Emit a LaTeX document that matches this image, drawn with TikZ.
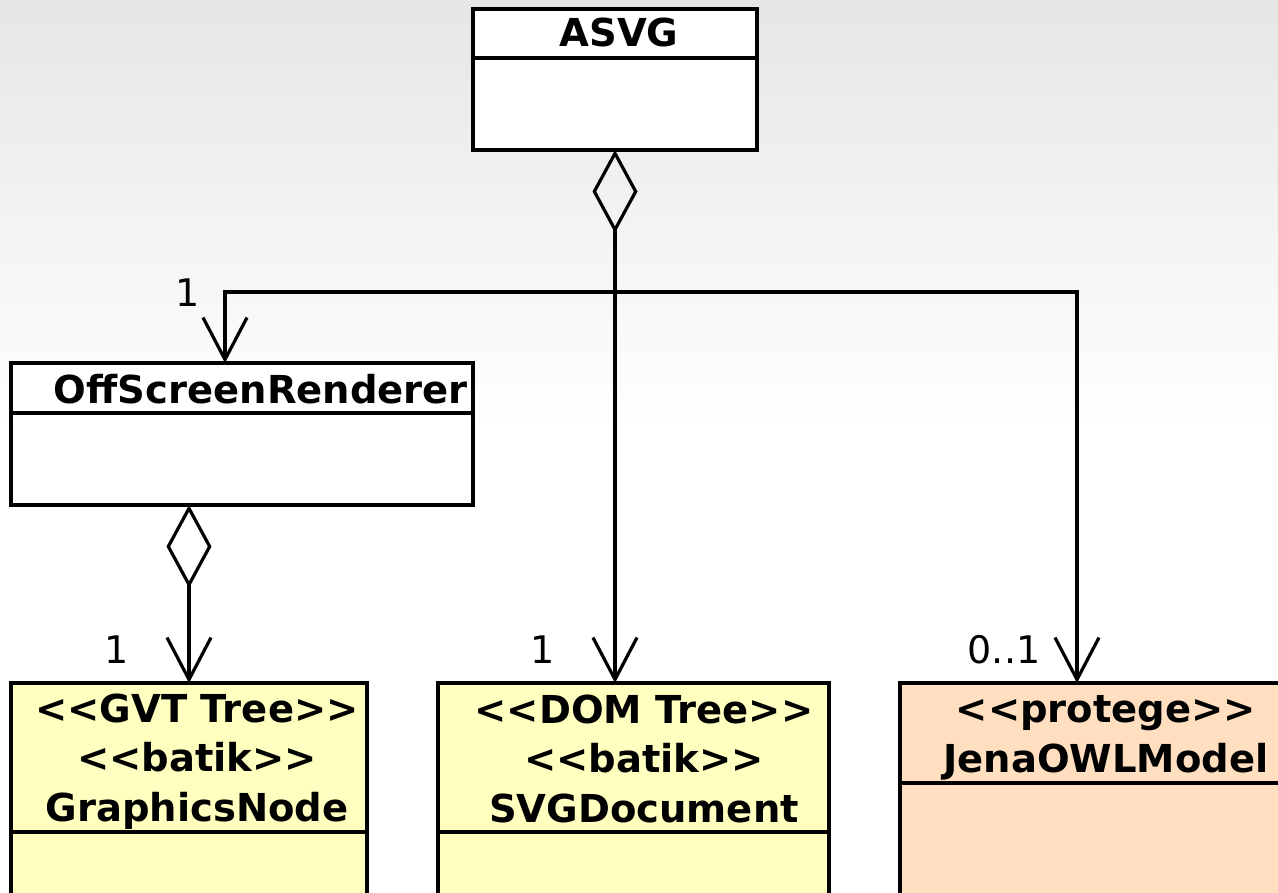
\documentclass[tikz,border=0pt]{standalone}
\usepackage{fontspec}
\setmainfont{DejaVu Sans}[Ligatures=TeXOff]
\usetikzlibrary{arrows.meta,calc}
\definecolor{bgtop}{RGB}{230,230,230}
\definecolor{gvtfill}{RGB}{255,255,192}
\definecolor{jenafill}{RGB}{255,223,191}
\begin{document}
\begin{tikzpicture}[x=1pt,y=-1pt,
  umlbox/.style={draw, line width=3.2pt, rectangle, anchor=north west, outer sep=0pt, inner sep=0pt},
  title/.style={font=\fontsize{38.5}{49.5}\selectfont\bfseries, anchor=base, align=center, inner sep=0pt},
  mult/.style={font=\fontsize{38}{46}\selectfont, anchor=base, inner sep=0pt},
  conn/.style={line width=3.2pt},
  barb/.style={conn, {Straight Barb[length=42pt,width=44pt]}-{Straight Barb[length=42pt,width=44pt]}},
  aggr/.style={conn, {Diamond[open,length=83pt,width=45pt]}-{Straight Barb[length=42pt,width=44pt]}}]
\useasboundingbox (0,0) rectangle (1278,893);
\clip (0,0) rectangle (1278,893);
% background
\shade[top color=bgtop, bottom color=white] (0,0) rectangle (1278,430);
\fill[white] (0,430) rectangle (1278,893);
% boxes
\node[umlbox, fill=white, minimum width=284pt, minimum height=141pt] (asvg) at (473,9) {};
\draw[conn] (473,58) -- (757,58);
\node[umlbox, fill=white, minimum width=462pt, minimum height=142pt] (off) at (11,363) {};
\draw[conn] (11,413) -- (473,413);
\node[umlbox, fill=gvtfill, minimum width=356pt, minimum height=260pt] (gvt) at (11,683) {};
\draw[conn] (11,832) -- (367,832);
\node[umlbox, fill=gvtfill, minimum width=391pt, minimum height=260pt] (svg) at (438,683) {};
\draw[conn] (438,832) -- (829,832);
\node[umlbox, fill=jenafill, minimum width=420pt, minimum height=260pt] (jena) at (900,683) {};
\draw[conn] (900,783) -- (1320,783);
% titles (base anchor = last line)
\node[title] (asvgT) at (619,47) {ASVG};
\node[title] (offT) at (261,403) {OffScreenRenderer};
\node[title] (gvtT) at (197,821) {<<GVT Tree>>\\<<batik>>\\GraphicsNode};
\node[title] (svgT) at (644,822) {<<DOM Tree>>\\<<batik>>\\SVGDocument};
\node[title] (jenaT) at (1106,772) {<<protege>>\\JenaOWLModel};
% multiplicities
\node[mult] (m1) at (188,307) {1};
\node[mult] (m2) at (117,663) {1};
\node[mult] (m3) at (543,663) {1};
\node[mult] (m4) at (1004,663) {0..1};
% connectors
\coordinate (jL) at (225,292);
\coordinate (jR) at (1077,292);
\draw[aggr] (asvg.south) -- (asvg.south |- svg.north);
\draw[barb] (jL |- off.north) -- (jL) -- (jR) -- (jR |- jena.north);
\coordinate (oa) at (189,505);
\draw[aggr] (oa) -- (oa |- gvt.north);
\end{tikzpicture}
\end{document}
